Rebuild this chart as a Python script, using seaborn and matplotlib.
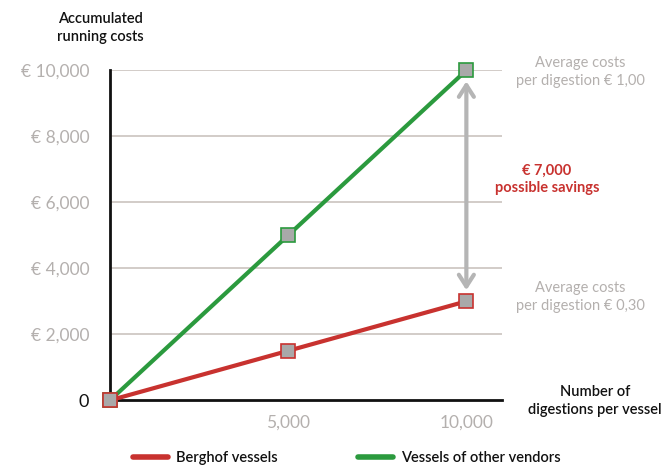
import matplotlib
matplotlib.use("Agg")
import matplotlib.pyplot as plt
import seaborn as sns
import pandas as pd
from matplotlib.lines import Line2D

# ---- data ----
digestions = [0, 5000, 10000]
berghof_costs = [0, 1500, 3000]
other_costs = [0, 5000, 10000]
series_names = ["Berghof vessels", "Vessels of other vendors"]
ytick_values = [0, 2000, 4000, 6000, 8000, 10000]
ytick_labels = ["0", "€ 2,000", "€ 4,000", "€ 6,000", "€ 8,000", "€ 10,000"]
xtick_values = [5000, 10000]
xtick_labels = ["5,000", "10,000"]

RED = "#c8322f"
GREEN = "#2b9a3e"
GRAYTXT = "#b4b0ae"
GRID = "#cfc8c4"

sns.set_theme(style="white")
plt.rcParams["font.family"] = ["Lato", "DejaVu Sans"]

df = pd.DataFrame({
    "x": digestions * 2,
    "y": berghof_costs + other_costs,
    "series": [series_names[0]] * 3 + [series_names[1]] * 3,
})

fig = plt.figure(figsize=(6.72, 4.68), dpi=100)
ax = fig.add_axes([110 / 672, 1 - 400.3 / 468, (502 - 110) / 672, (400.3 - 70.3) / 468])

# draw green first so red sits on top at the origin
for name, col in zip(series_names[::-1], [GREEN, RED]):
    sub = df[df["series"] == name]
    sns.lineplot(data=sub, x="x", y="y", ax=ax, color=col, linewidth=3,
                 marker="s", markersize=10, markerfacecolor="#a9a9a9",
                 markeredgecolor=col, markeredgewidth=1.2, clip_on=False,
                 zorder=4, legend=False)

ax.set_xlim(0, 11000)
ax.set_ylim(0, 10000)

# gridlines (excluding zero)
for v in ytick_values[1:]:
    ax.axhline(v, color=GRID, lw=1.3, zorder=1)

ax.set_yticks(ytick_values)
ax.set_yticklabels(ytick_labels, fontsize=12.5, color=GRAYTXT)
ax.get_yticklabels()[0].set_color("#111111")
ax.get_yticklabels()[0].set_fontsize(13)
ax.tick_params(axis="y", length=0, pad=15)
ax.set_xticks(xtick_values)
ax.set_xticklabels(xtick_labels, fontsize=12.5, color=GRAYTXT)
ax.tick_params(axis="x", direction="in", length=6, width=1.5, color="#111111", pad=10)

for s in ["top", "right"]:
    ax.spines[s].set_visible(False)
for s in ["left", "bottom"]:
    ax.spines[s].set_color("#111111")
    ax.spines[s].set_linewidth(2)
ax.set_xlabel("")
ax.set_ylabel("")

# double-headed arrow between the two end points
ax.annotate("", xy=(digestions[-1], other_costs[-1] - 250), xytext=(digestions[-1], berghof_costs[-1] + 250),
            arrowprops=dict(arrowstyle="<->,head_length=0.7,head_width=0.45", color="#b5b5b5", lw=3),
            zorder=3)

# texts
fig.text(100 / 672, 1 - 28 / 468, "Accumulated\nrunning costs", ha="center", va="center",
         fontsize=10.5, color="#111111", fontweight="semibold", linespacing=1.3)
fig.text(580 / 672, 1 - 72 / 468, "Average costs\nper digestion € 1,00", ha="center", va="center",
         fontsize=10.5, color=GRAYTXT, linespacing=1.3)
fig.text(547 / 672, 1 - 179 / 468, "€ 7,000\npossible savings", ha="center", va="center",
         fontsize=10.5, color=RED, fontweight="bold", linespacing=1.3)
fig.text(580 / 672, 1 - 297 / 468, "Average costs\nper digestion € 0,30", ha="center", va="center",
         fontsize=10.5, color=GRAYTXT, linespacing=1.3)
fig.text(595 / 672, 1 - 401 / 468, "Number of\ndigestions per vessel", ha="center", va="center",
         fontsize=10.5, color="#111111", fontweight="semibold", linespacing=1.3)

handles = [Line2D([0], [0], color=RED, lw=4), Line2D([0], [0], color=GREEN, lw=4)]
leg = fig.legend(handles, series_names, loc="center", bbox_to_anchor=(347 / 672, 1 - 458 / 468),
                 ncol=2, frameon=False, fontsize=10.5, handlelength=2.4, columnspacing=5.5,
                 handletextpad=0.55)
for t in leg.get_texts():
    t.set_fontweight("semibold")
    t.set_color("#111111")

fig.savefig("out.png", dpi=100)
